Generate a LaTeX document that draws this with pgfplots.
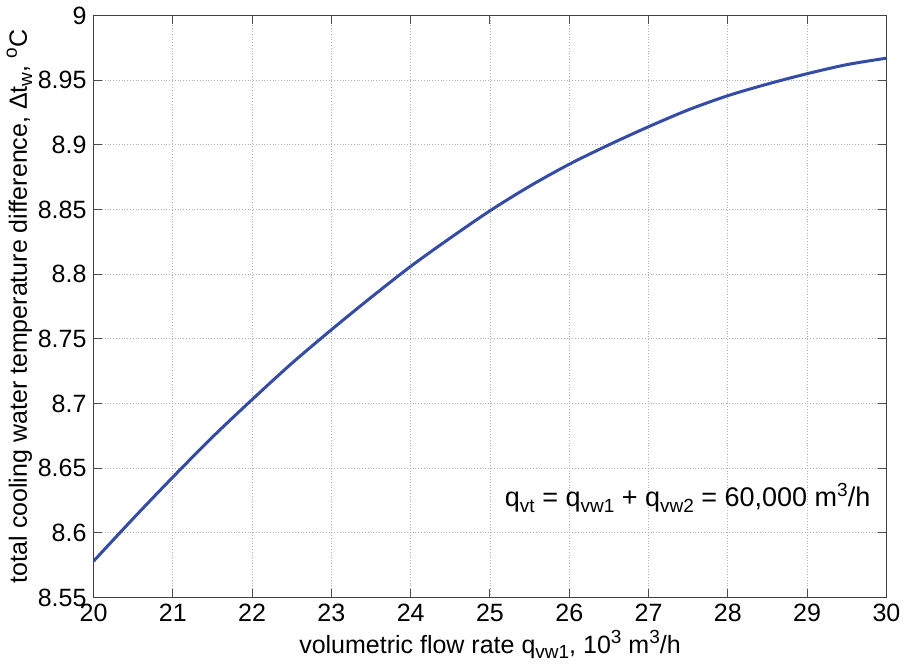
\documentclass[border=0pt]{standalone}
\usepackage{pgfplots}
\pgfplotsset{compat=1.18}
\usepackage{fontspec}
\setmainfont{Liberation Sans}
\newcommand{\lo}[1]{\raisebox{-0.4ex}{\fontsize{9.5}{10}\selectfont #1}}
\newcommand{\hi}[1]{\raisebox{0.75ex}{\fontsize{9.5}{10}\selectfont #1}}
\begin{document}
\begin{tikzpicture}
\begin{axis}[
  scale only axis, width=396.5pt, height=291pt,
  xmin=20, xmax=30, ymin=8.55, ymax=9,
  xtick={20,21,...,30},
  ytick={8.55,8.6,8.65,8.7,8.75,8.8,8.85,8.9,8.95,9},
  yticklabels={8.55,8.6,8.65,8.7,8.75,8.8,8.85,8.9,8.95,9},
  /pgf/number format/assume math mode=true,
  font=\fontsize{12.5}{14}\selectfont,
  tick align=inside, tick style={black!70, line width=0.5pt},
  major tick length=4pt,
  axis line style={black!75, line width=0.5pt},
  grid=major, grid style={densely dotted, gray!60, line width=0.4pt},
  xlabel={volumetric flow rate q\lo{vw1}, 10\hi{3} m\hi{3}/h},
  ylabel={total cooling water temperature difference, Δt\lo{w}, \hi{o}C},
  xlabel style={yshift=3pt},
  ylabel style={yshift=-4pt},
]
\addplot[color={rgb,255:red,52;green,76;blue,165}, line width=1.5pt, smooth] coordinates {
  (20,8.578) (20.5,8.611) (21,8.643) (21.5,8.674) (22,8.703) (22.5,8.731)
  (23,8.757) (23.5,8.782) (24,8.806) (24.5,8.828) (25,8.849) (25.5,8.868)
  (26,8.885) (26.5,8.900) (27,8.914) (27.5,8.927) (28,8.938) (28.5,8.947)
  (29,8.955) (29.5,8.962) (30,8.967)
};
\node[anchor=west, font=\fontsize{13.5}{15}\selectfont] at (axis cs:25.1,8.627)
  {q\lo{vt} = q\lo{vw1} + q\lo{vw2} = 60,000 m\hi{3}/h};
\end{axis}
\end{tikzpicture}
\end{document}
